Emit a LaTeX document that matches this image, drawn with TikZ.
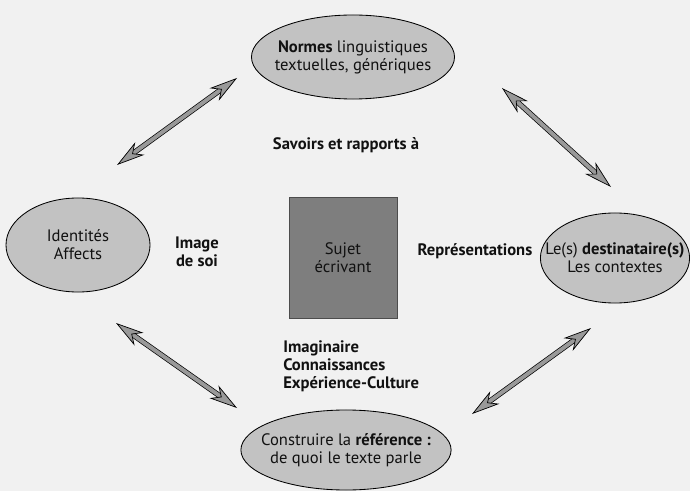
\documentclass[tikz,border=0pt]{standalone}
\usepackage{fontspec}
\setmainfont{PT Sans}
\usetikzlibrary{
  shapes.geometric,
  arrows.meta,
}
\definecolor{pageCol}{HTML}{F1F1F1}
\definecolor{ovalFill}{HTML}{C2C2C2}
\definecolor{squareFill}{HTML}{7E7E7E}
\definecolor{arrowFill}{HTML}{999999}
\definecolor{textCol}{HTML}{111111}
\newcommand{\diagfont}{\fontsize{11.8}{12.9}\selectfont}
\tikzset{
  oval/.style={
    ellipse, draw=black, fill=ovalFill, line width=0.6pt,
    align=center, font=\diagfont, text=textCol, inner sep=0pt,
  },
  subject/.style={
    rectangle, draw=black!70, fill=squareFill, line width=0.5pt,
    minimum width=2.7cm, minimum height=3.025cm,
    align=center, font=\diagfont, text=textCol,
  },
  relation/.style={font=\diagfont\bfseries, align=center, text=textCol},
  twoway/.style={
    double=arrowFill, double distance=2.8pt, line width=0.5pt,
    {Stealth[length=20pt, width=11pt, inset=6pt, fill=arrowFill]}-{Stealth[length=20pt, width=11pt, inset=6pt, fill=arrowFill]},
  },
}

\begin{document}
\begin{tikzpicture}[x=0.025cm, y=-0.025cm]

  \useasboundingbox (0,0) rectangle (690,491);
  \fill[pageCol] (0,0) rectangle (690,491);

  % Poles
  \node[oval, inner xsep=-4.6pt, minimum width=4.7cm, minimum height=2.1cm] (normes) at (353,57) {\textbf{Normes} linguistiques\\textuelles, génériques};
  \node[oval, minimum width=3.6cm, minimum height=2.35cm] (ident) at (78,245) {Identités\\Affects};
  \node[oval, inner xsep=-12pt, minimum width=3.6cm, minimum height=2.25cm] (dest) at (615,258) {Le(s) \textbf{destinataire(s)}\\Les contextes};
  \node[oval, inner xsep=-7.5pt, minimum width=4.55cm, minimum height=2cm] (refer) at (346,450) {Construire la \textbf{référence :}\\de quoi le texte parle};

  % Centre
  \node[subject] (sujet) at (343,257.5) {Sujet\\écrivant};

  \node[relation] (savoirs) at (346,145) {Savoirs et rapports à};
  \node[relation] (image) at (197,252) {Image\\de soi};
  \node[relation] (repres) at (475,251) {Représentations};
  \node[relation, align=left, anchor=west, inner sep=0pt] (imagin) at (283,366) {Imaginaire\\Connaissances\\Expérience-Culture};

  % Arrows
  \coordinate (tlA) at (117,165);
  \coordinate (tlB) at (237,78);
  \coordinate (trA) at (502,88);
  \coordinate (trB) at (611,187);
  \coordinate (blA) at (116,323);
  \coordinate (blB) at (237,408);
  \coordinate (brA) at (472,414);
  \coordinate (brB) at (591,328);

  \draw[twoway] (tlA) -- (tlB);
  \draw[twoway] (trA) -- (trB);
  \draw[twoway] (blA) -- (blB);
  \draw[twoway] (brA) -- (brB);

\end{tikzpicture}
\end{document}
